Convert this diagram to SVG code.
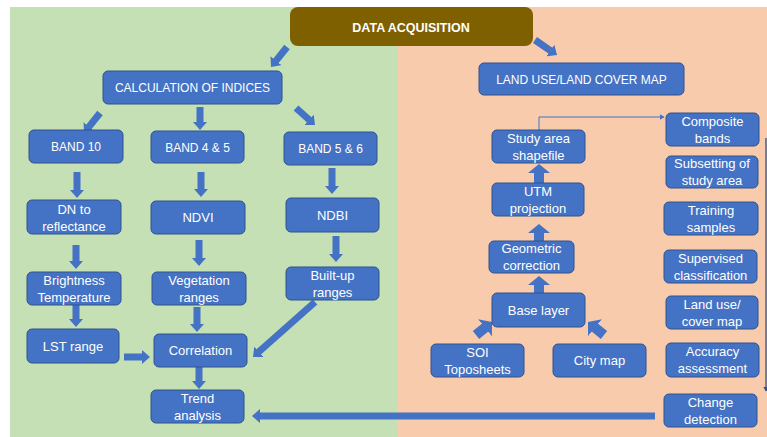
<svg xmlns="http://www.w3.org/2000/svg" width="767" height="437" viewBox="0 0 767 437">
<defs>
<style>
.bx{fill:#4472C4;stroke:#2F528F;stroke-width:1}
.t{font-family:"Liberation Sans",Arial,sans-serif;font-size:13px;fill:#fff;text-anchor:middle}
.c{font-size:12px}
.a{stroke:#4472C4;stroke-width:7;fill:none;marker-end:url(#ah)}
.ab{stroke:#4472C4;stroke-width:10;fill:none;marker-end:url(#ahb)}
.thin{stroke:#4472C4;stroke-width:1;fill:none;marker-end:url(#aht)}
.thin2{stroke:#2F528F;stroke-width:1.3;fill:none;marker-end:url(#aht2)}
</style>
<marker id="ah" markerUnits="userSpaceOnUse" viewBox="0 0 8 14" markerWidth="8" markerHeight="14" refX="0.5" refY="7" orient="auto"><path d="M0,0 L8,7 L0,14 z" fill="#4472C4"/></marker>
<marker id="ahb" markerUnits="userSpaceOnUse" viewBox="0 0 9 22" markerWidth="9" markerHeight="22" refX="0.5" refY="11" orient="auto"><path d="M0,0 L9,11 L0,22 z" fill="#4472C4"/></marker>
<marker id="aht" markerUnits="userSpaceOnUse" viewBox="0 0 5 6" markerWidth="5" markerHeight="6" refX="4.5" refY="3" orient="auto"><path d="M0,0 L5,3 L0,6 z" fill="#4472C4"/></marker>
<marker id="aht2" markerUnits="userSpaceOnUse" viewBox="0 0 5 6" markerWidth="5" markerHeight="6" refX="4.5" refY="3" orient="auto"><path d="M0,0 L5,3 L0,6 z" fill="#2F528F"/></marker>
</defs>
<rect x="0" y="0" width="767" height="437" fill="#ffffff"/>
<rect x="10" y="7" width="387" height="430" fill="#C5E0B4"/>
<rect x="397" y="7" width="370" height="430" fill="#F8CBAD"/>

<g id="connectors">
<line class="a" x1="287" y1="47" x2="275.7" y2="61.1"/>
<line class="a" x1="535" y1="40" x2="550.8" y2="50.8"/>
<line class="a" x1="100" y1="113" x2="88.7" y2="127.1"/>
<line class="a" x1="200" y1="107" x2="200" y2="122.5"/>
<line class="a" x1="296" y1="108" x2="309.4" y2="120"/>
<line class="a" x1="77" y1="172" x2="77" y2="190.5"/>
<line class="a" x1="201" y1="172" x2="201" y2="189.5"/>
<line class="a" x1="332" y1="168" x2="332" y2="186.5"/>
<line class="a" x1="76" y1="245" x2="76" y2="261.5"/>
<line class="a" x1="199" y1="240" x2="199" y2="258.5"/>
<line class="a" x1="336" y1="236" x2="336" y2="254.5"/>
<line class="a" x1="76" y1="305" x2="76" y2="319.5"/>
<line class="a" x1="197" y1="307" x2="197" y2="324.5"/>
<line class="a" x1="124" y1="357" x2="142.5" y2="357"/>
<line class="a" x1="315" y1="302" x2="258.6" y2="352"/>
<line class="a" x1="199" y1="367" x2="199" y2="381.5"/>
<line class="a" x1="655" y1="416" x2="259.5" y2="416"/>
<line class="ab" x1="539" y1="183" x2="539" y2="172.5"/>
<line class="ab" x1="539" y1="241" x2="539" y2="232.5"/>
<line class="ab" x1="539" y1="293" x2="539" y2="284.5"/>
<line class="ab" x1="476" y1="335" x2="485.4" y2="327.4"/>
<line class="ab" x1="604" y1="335" x2="594.6" y2="327.4"/>
<path class="thin" d="M539,130 V117 H664"/>
<path class="thin2" d="M766,138 V391"/>
</g>

<g id="data-acquisition"><rect x="290" y="7" width="243" height="39" rx="8" fill="#7F6000"/><text class="t" x="411" y="31.5" style="font-weight:bold;font-size:12.5px">DATA ACQUISITION</text></g>
<g id="calc"><rect class="bx" x="103" y="71" width="179" height="33" rx="5"/><text class="t c" x="192.5" y="91.5">CALCULATION OF INDICES</text></g>
<g id="lulc"><rect class="bx" x="479" y="63" width="205" height="32" rx="5"/><text class="t c" x="581.5" y="83.5">LAND USE/LAND COVER MAP</text></g>
<g id="band10"><rect class="bx" x="29" y="130" width="94" height="33" rx="5"/><text class="t c" x="76" y="151">BAND 10</text></g>
<g id="band45"><rect class="bx" x="151" y="131" width="93" height="32" rx="5"/><text class="t c" x="197.5" y="151.5">BAND 4 &amp; 5</text></g>
<g id="band56"><rect class="bx" x="284" y="132" width="93" height="33" rx="5"/><text class="t c" x="330.5" y="153">BAND 5 &amp; 6</text></g>
<g id="dn"><rect class="bx" x="27" y="200" width="94" height="34" rx="5"/><text class="t" x="74" y="213.5">DN to</text><text class="t" x="74" y="230.5">reflectance</text></g>
<g id="ndvi"><rect class="bx" x="151" y="201" width="94" height="33" rx="5"/><text class="t" x="198" y="222">NDVI</text></g>
<g id="ndbi"><rect class="bx" x="286" y="198" width="93" height="34" rx="5"/><text class="t" x="332.5" y="219.5">NDBI</text></g>
<g id="bright"><rect class="bx" x="27" y="272" width="94" height="33" rx="5"/><text class="t" x="74" y="284.5">Brightness</text><text class="t" x="74" y="301.5">Temperature</text></g>
<g id="veg"><rect class="bx" x="152" y="272" width="94" height="33" rx="5"/><text class="t" x="199" y="284.5">Vegetation</text><text class="t" x="199" y="301.5">ranges</text></g>
<g id="builtup"><rect class="bx" x="286" y="267" width="93" height="33" rx="5"/><text class="t" x="332.5" y="279.5">Built-up</text><text class="t" x="332.5" y="296.5">ranges</text></g>
<g id="lst"><rect class="bx" x="27" y="329" width="92" height="34" rx="5"/><text class="t" x="73" y="350.5">LST range</text></g>
<g id="corr"><rect class="bx" x="154" y="334" width="93" height="33" rx="5"/><text class="t" x="200.5" y="355">Correlation</text></g>
<g id="trend"><rect class="bx" x="151" y="390" width="93" height="33" rx="5"/><text class="t" x="197.5" y="402.5">Trend</text><text class="t" x="197.5" y="419.5">analysis</text></g>
<g id="study"><rect class="bx" x="492" y="130" width="93" height="33" rx="5"/><text class="t" x="538.5" y="142.5">Study area</text><text class="t" x="538.5" y="159.5">shapefile</text></g>
<g id="utm"><rect class="bx" x="492" y="183" width="92" height="33" rx="5"/><text class="t" x="538" y="195.5">UTM</text><text class="t" x="538" y="212.5">projection</text></g>
<g id="geo"><rect class="bx" x="489" y="241" width="85" height="32" rx="5"/><text class="t" x="531.5" y="253">Geometric</text><text class="t" x="531.5" y="270">correction</text></g>
<g id="base"><rect class="bx" x="492" y="293" width="93" height="34" rx="5"/><text class="t" x="538.5" y="314.5">Base layer</text></g>
<g id="soi"><rect class="bx" x="431" y="344" width="93" height="33" rx="5"/><text class="t" x="477.5" y="356.5">SOI</text><text class="t" x="477.5" y="373.5">Toposheets</text></g>
<g id="city"><rect class="bx" x="553" y="344" width="93" height="33" rx="5"/><text class="t" x="599.5" y="365">City map</text></g>
<g id="composite"><rect class="bx" x="666" y="113" width="93" height="33" rx="5"/><text class="t" x="712.5" y="125.5">Composite</text><text class="t" x="712.5" y="142.5">bands</text></g>
<g id="subset"><rect class="bx" x="666" y="156" width="92" height="32" rx="5"/><text class="t" x="712" y="168">Subsetting of</text><text class="t" x="712" y="185">study area</text></g>
<g id="training"><rect class="bx" x="664" y="202" width="94" height="33" rx="5"/><text class="t" x="711" y="214.5">Training</text><text class="t" x="711" y="231.5">samples</text></g>
<g id="supervised"><rect class="bx" x="664" y="250" width="93" height="33" rx="5"/><text class="t" x="710.5" y="262.5">Supervised</text><text class="t" x="710.5" y="279.5">classification</text></g>
<g id="landuse"><rect class="bx" x="666" y="296" width="92" height="33" rx="5"/><text class="t" x="712" y="308.5">Land use/</text><text class="t" x="712" y="325.5">cover map</text></g>
<g id="accuracy"><rect class="bx" x="666" y="343" width="93" height="34" rx="5"/><text class="t" x="712.5" y="356">Accuracy</text><text class="t" x="712.5" y="373">assessment</text></g>
<g id="change"><rect class="bx" x="664" y="394" width="93" height="33" rx="5"/><text class="t" x="710.5" y="406.5">Change</text><text class="t" x="710.5" y="423.5">detection</text></g>
</svg>
